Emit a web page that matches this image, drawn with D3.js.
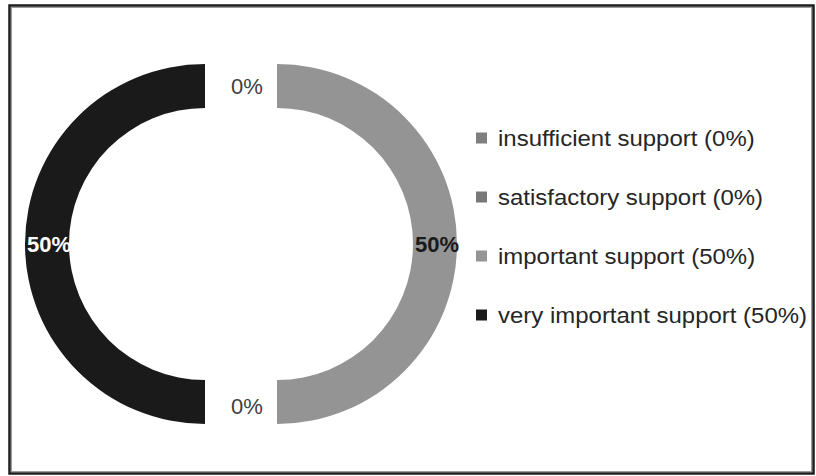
<!DOCTYPE html>
<html>
<head>
<meta charset="utf-8">
<script src="https://cdn.jsdelivr.net/npm/d3@7/dist/d3.min.js"></script>
<style>
  html, body { margin: 0; padding: 0; background: #fff; }
  svg { display: block; font-family: "Liberation Sans", Arial, Helvetica, sans-serif; }
</style>
</head>
<body>
<svg id="chart" width="816" height="476"></svg>
<script>
// Support level ratings (share of answers, %)
const categories = ["insufficient support", "satisfactory support", "important support", "very important support"];
const values = [0, 0, 50, 50];
const colors = ["#7f7f7f", "#787878", "#949494", "#1a1a1a"];
const labelColors = ["#404040", "#404040", "#1a1a1a", "#ffffff"];

const svg = d3.select("#chart");

// frame
svg.append("rect").attr("x", 9.5).attr("y", 5.5).attr("width", 804).attr("height", 468)
  .attr("fill", "#fff").attr("stroke", "#1c1c1c").attr("stroke-width", 2.5);
svg.append("rect").attr("x", 11.5).attr("y", 7.5).attr("width", 800).attr("height", 464)
  .attr("fill", "none").attr("stroke", "#9a9a9a").attr("stroke-width", 1);

// exploded doughnut
const cx = 241, cy = 244;
const rOuter = 180, rInner = 136, explode = 36;

const pie = d3.pie().sort(null).value(d => d.value);
const arcs = pie(categories.map((c, i) => ({ name: c, value: values[i], i })));
const arc = d3.arc().innerRadius(rInner).outerRadius(rOuter);

const ring = svg.append("g").attr("transform", `translate(${cx},${cy})`);

function offset(d) {
  const mid = (d.startAngle + d.endAngle) / 2;
  return [Math.sin(mid) * explode, -Math.cos(mid) * explode];
}

ring.selectAll("path.slice")
  .data(arcs.filter(d => d.value > 0))
  .join("path")
  .attr("class", "slice")
  .attr("d", arc)
  .attr("fill", d => colors[d.data.i])
  .attr("transform", d => { const o = offset(d); return `translate(${o[0]},${o[1]})`; });

// value labels: non-zero slices at their centroid, empty slices in the gap (top, then bottom)
const rLabel = (rInner + rOuter) / 2;
let zeroCount = 0;
arcs.forEach(d => {
  let x, y, bold;
  if (d.value > 0) {
    const c = arc.centroid(d), o = offset(d);
    x = c[0] + o[0] + 2; y = c[1] + o[1]; bold = true;
  } else {
    const ang = zeroCount === 0 ? 0 : Math.PI;
    x = 6 + Math.sin(ang) * rLabel;
    y = -Math.cos(ang) * (rLabel + (zeroCount === 0 ? 0 : 4));
    bold = false;
    zeroCount++;
  }
  ring.append("text")
    .attr("x", x).attr("y", y)
    .attr("dy", "0.36em")
    .attr("text-anchor", "middle")
    .attr("font-size", 22)
    .attr("font-weight", bold ? "bold" : "normal")
    .attr("fill", labelColors[d.data.i])
    .text(`${d.value}%`);
});

// legend
const legend = svg.append("g");
const rowY = d3.scalePoint().domain(categories).range([138, 315]);
categories.forEach((c, i) => {
  const y = rowY(c);
  legend.append("rect")
    .attr("x", 476).attr("y", y - 5.5).attr("width", 11).attr("height", 11)
    .attr("fill", colors[i]);
  legend.append("text")
    .attr("transform", `translate(498,${y}) scale(1.09,1)`)
    .attr("dy", "0.36em")
    .attr("font-size", 22)
    .attr("fill", "#262626")
    .text(`${c} (${values[i]}%)`);
});
</script>
</body>
</html>
